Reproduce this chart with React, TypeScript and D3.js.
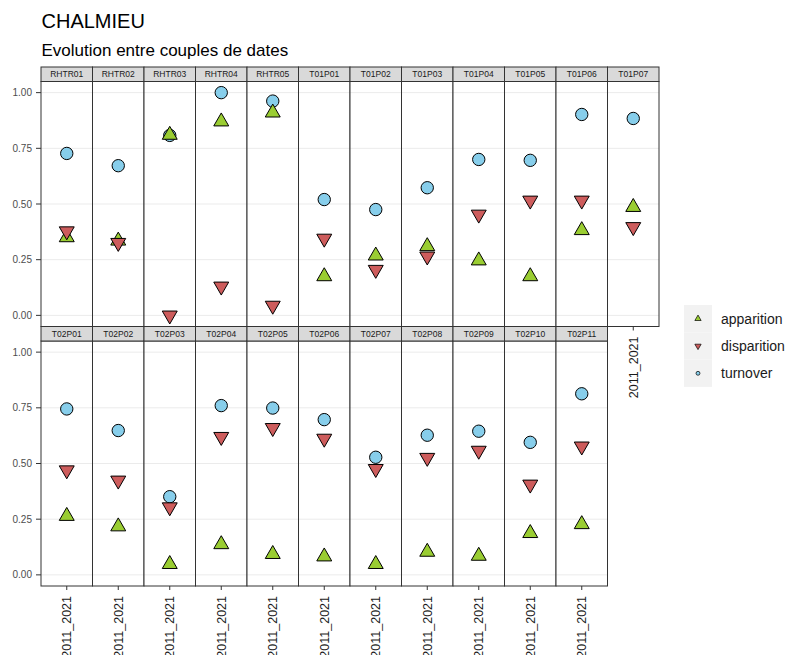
import React from "react";
import * as d3 from "d3";

const sites = [
  "RHTR01", "RHTR02", "RHTR03", "RHTR04", "RHTR05",
  "T01P01", "T01P02", "T01P03", "T01P04", "T01P05", "T01P06", "T01P07",
  "T02P01", "T02P02", "T02P03", "T02P04", "T02P05", "T02P06",
  "T02P07", "T02P08", "T02P09", "T02P10", "T02P11",
];
const apparition = [
  0.35, 0.335, 0.81, 0.87, 0.91, 0.175, 0.268, 0.31, 0.246, 0.175, 0.382, 0.486,
  0.264, 0.217, 0.048, 0.137, 0.093, 0.082, 0.048, 0.103, 0.085, 0.187, 0.227,
];
const disparition = [
  0.378, 0.326, 0.0, 0.13, 0.044, 0.345, 0.205, 0.265, 0.453, 0.516, 0.516, 0.397,
  0.47, 0.424, 0.304, 0.62, 0.66, 0.612, 0.476, 0.526, 0.558, 0.406, 0.577,
];
const turnover = [
  0.727, 0.672, 0.808, 1.0, 0.962, 0.52, 0.475, 0.573, 0.7, 0.696, 0.902, 0.884,
  0.745, 0.648, 0.351, 0.76, 0.749, 0.697, 0.528, 0.627, 0.645, 0.595, 0.813,
];
const periods = ["2011_2021"];
const yTicks = [0, 0.25, 0.5, 0.75, 1.0];
const seriesNames = ["apparition", "disparition", "turnover"];
const seriesColors = ["#9ACD32", "#CD5C5C", "#87CEEB"];

const FONT = "'Liberation Sans', Arial, Helvetica, sans-serif";

export default function App() {
  const W = 798, H = 655;
  const left = 41, pw = 51.5, top = 67, stripH = 14.5, panelH = 245;
  const nCol = 12;

  const x = d3.scalePoint<string>().domain(periods).range([0, pw]).padding(0.5);
  const y = d3.scaleLinear().domain([-0.05, 1.05]).range([panelH, 0]);

  const tri = d3.symbol().type(d3.symbolTriangle).size(97)() as string;
  const circ = d3.symbol().type(d3.symbolCircle).size(120)() as string;
  const triS = d3.symbol().type(d3.symbolTriangle).size(17)() as string;
  const circS = d3.symbol().type(d3.symbolCircle).size(12)() as string;

  const values = [apparition, disparition, turnover];
  // drawing order: turnover, apparition, disparition
  const drawOrder = [2, 0, 1];

  const panels = sites.map((s, i) => {
    const col = i % nCol;
    const row = Math.floor(i / nCol);
    const px = left + col * pw;
    const sy = top + row * (stripH + panelH);
    const py = sy + stripH;
    const hasBelow = i + nCol < sites.length;
    return { s, i, col, row, px, sy, py, hasBelow };
  });

  const nRows = Math.ceil(sites.length / nCol);

  return (
    <svg
      width={W}
      height={H}
      style={{ position: "absolute", left: 0, top: 0, background: "#fff" }}
      fontFamily={FONT}
    >
      <rect x={0} y={0} width={W} height={H} fill="#fff" />
      <text x={41.5} y={28} fontSize={20} fill="#000">CHALMIEU</text>
      <text x={41.5} y={56} fontSize={17} fill="#000">Evolution entre couples de dates</text>

      {d3.range(nRows).map((r) => {
        const py = top + r * (stripH + panelH) + stripH;
        return (
          <g key={"ya" + r} transform={`translate(${left},${py})`}>
            {yTicks.map((t) => (
              <g key={t} transform={`translate(0,${y(t)})`}>
                <line x1={-5} x2={0} stroke="#333" strokeWidth={1} />
                <text x={-9} dy="0.35em" textAnchor="end" fontSize={10} fill="#4D4D4D">
                  {t.toFixed(2)}
                </text>
              </g>
            ))}
          </g>
        );
      })}

      {panels.map((p) => (
        <g key={p.s}>
          <g transform={`translate(${p.px},${p.py})`}>
            <rect x={0} y={0} width={pw} height={panelH} fill="#fff" />
            {yTicks.map((t) => (
              <line key={t} x1={0} x2={pw} y1={y(t)} y2={y(t)} stroke="#EBEBEB" strokeWidth={1} />
            ))}
            {drawOrder.map((k) => {
              const v = values[k][p.i];
              const cx = x(periods[0]) as number;
              const cy = y(v);
              const d = k === 2 ? circ : tri;
              const rot = k === 1 ? " rotate(180)" : "";
              return (
                <path
                  key={k}
                  d={d}
                  transform={`translate(${cx},${cy})${rot}`}
                  fill={seriesColors[k]}
                  stroke="#000"
                  strokeWidth={1}
                />
              );
            })}
            <rect x={0} y={0} width={pw} height={panelH} fill="none" stroke="#333" strokeWidth={1} />
            {!p.hasBelow &&
              periods.map((per) => (
                <g key={per} transform={`translate(${x(per)},${panelH})`}>
                  <line y1={0} y2={4} stroke="#333" strokeWidth={1} />
                  <text
                    transform="translate(0,10) rotate(-90)"
                    textAnchor="end"
                    dy="0.35em"
                    fontSize={12.5}
                    fill="#1A1A1A"
                  >
                    {per}
                  </text>
                </g>
              ))}
          </g>
          <g transform={`translate(${p.px},${p.sy})`}>
            <rect x={0} y={0} width={pw} height={stripH} fill="#D9D9D9" stroke="#333" strokeWidth={1} />
            <text x={pw / 2} y={stripH / 2} dy="0.35em" textAnchor="middle" fontSize={8.5} fill="#1A1A1A">
              {p.s}
            </text>
          </g>
        </g>
      ))}

      <g transform="translate(684,305)">
        {seriesNames.map((n, k) => (
          <g key={n} transform={`translate(0,${k * 27.3})`}>
            <rect x={0} y={0} width={28} height={27.3} fill="#F2F2F2" />
            <path
              d={k === 2 ? circS : triS}
              transform={`translate(14,${13.7})${k === 1 ? " rotate(180)" : ""}`}
              fill={seriesColors[k]}
              stroke="#000"
              strokeWidth={0.7}
            />
            <text x={37} y={13.7} dy="0.35em" fontSize={14} fill="#1A1A1A">
              {n}
            </text>
          </g>
        ))}
      </g>
    </svg>
  );
}
